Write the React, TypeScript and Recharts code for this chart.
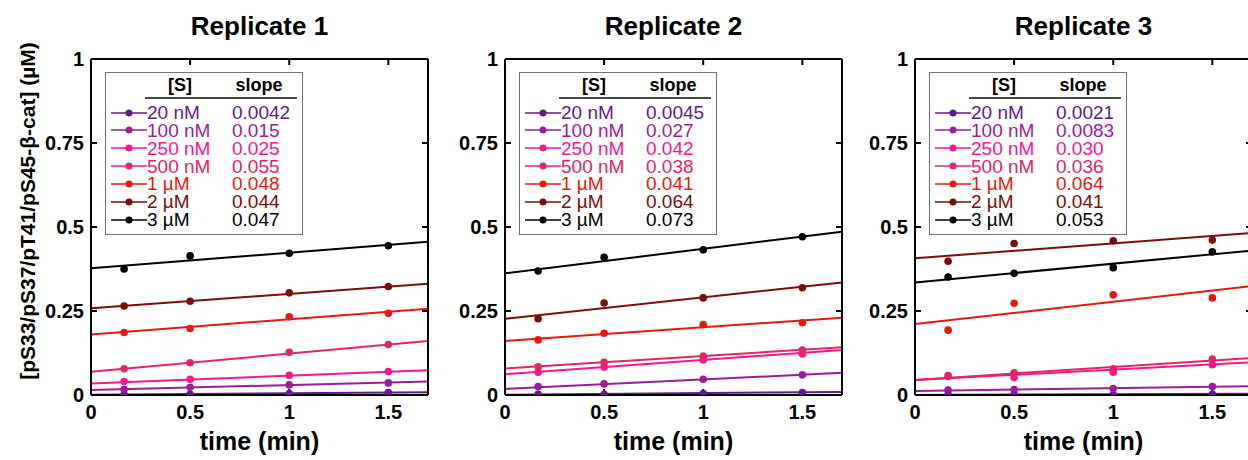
import { ComposedChart, Line, Scatter, XAxis, YAxis, Legend } from 'recharts';

const FONT = "'Liberation Sans', Arial, Helvetica, sans-serif";

const concentrations = ['20 nM', '100 nM', '250 nM', '500 nM', '1 µM', '2 µM', '3 µM'];
const seriesColors = ['#5f1a8e', '#9b1c98', '#f6168e', '#e2265f', '#e8170f', '#7c0b0b', '#000000'];
const times = [0.167, 0.5, 1, 1.5];
const fitTimes = [0, 1.7];
const xTicks = [0, 0.5, 1, 1.5];
const yTicks = [0, 0.25, 0.5, 0.75, 1];
const titles = ['Replicate 1', 'Replicate 2', 'Replicate 3'];

// measured points, one row per concentration
const rep1Points = [
  [0.001, 0.002, 0.004, 0.007],
  [0.017, 0.023, 0.03, 0.036],
  [0.04, 0.047, 0.059, 0.07],
  [0.078, 0.096, 0.127, 0.15],
  [0.186, 0.198, 0.233, 0.243],
  [0.265, 0.279, 0.304, 0.323],
  [0.375, 0.414, 0.422, 0.444],
];
const rep2Points = [
  [0.002, 0.002, 0.004, 0.007],
  [0.025, 0.033, 0.047, 0.06],
  [0.068, 0.083, 0.104, 0.122],
  [0.084, 0.097, 0.116, 0.134],
  [0.164, 0.184, 0.21, 0.215],
  [0.227, 0.274, 0.289, 0.319],
  [0.369, 0.41, 0.432, 0.471],
];
const rep3Points = [
  [0.001, 0.001, 0.001, 0.002],
  [0.015, 0.016, 0.019, 0.025],
  [0.055, 0.052, 0.068, 0.09],
  [0.058, 0.066, 0.078, 0.107],
  [0.193, 0.273, 0.298, 0.289],
  [0.398, 0.451, 0.459, 0.461],
  [0.351, 0.362, 0.379, 0.426],
];

// fitted line values at t = 0 and t = 1.7
const rep1Fits = [
  [0.001, 0.008],
  [0.015, 0.04],
  [0.034, 0.074],
  [0.069, 0.161],
  [0.18, 0.257],
  [0.258, 0.331],
  [0.377, 0.456],
];
const rep2Fits = [
  [0.001, 0.009],
  [0.018, 0.066],
  [0.062, 0.134],
  [0.079, 0.142],
  [0.161, 0.23],
  [0.227, 0.335],
  [0.362, 0.486],
];
const rep3Fits = [
  [0.0, 0.004],
  [0.012, 0.026],
  [0.045, 0.097],
  [0.045, 0.11],
  [0.211, 0.324],
  [0.407, 0.482],
  [0.335, 0.43],
];

const rep1Slopes = ['0.0042', '0.015', '0.025', '0.055', '0.048', '0.044', '0.047'];
const rep2Slopes = ['0.0045', '0.027', '0.042', '0.038', '0.041', '0.064', '0.073'];
const rep3Slopes = ['0.0021', '0.0083', '0.030', '0.036', '0.064', '0.041', '0.053'];

const PLOT_W = 337;
const panels = [
  { left: 0, axisW: 91, points: rep1Points, fits: rep1Fits, slopes: rep1Slopes },
  { left: 445, axisW: 60, points: rep2Points, fits: rep2Fits, slopes: rep2Slopes },
  { left: 855, axisW: 60, points: rep3Points, fits: rep3Fits, slopes: rep3Slopes },
];

const tickStyle = { fill: '#000', fontSize: 20, fontWeight: 'bold', fontFamily: FONT };
const lineStyle = { stroke: '#000', strokeWidth: 2 };

function SlopeLegend({ slopes }: { slopes: string[] }) {
  return (
    <div
      style={{
        position: 'relative',
        boxSizing: 'border-box',
        width: 198,
        height: 163,
        border: '1.5px solid #707070',
        background: '#fff',
        fontFamily: FONT,
      }}
    >
      <div style={{ position: 'absolute', left: 44, width: 60, top: 2, textAlign: 'center', fontSize: 18, fontWeight: 'bold', lineHeight: '20px' }}>
        [S]
      </div>
      <div style={{ position: 'absolute', left: 113, width: 80, top: 2, textAlign: 'center', fontSize: 18, fontWeight: 'bold', lineHeight: '20px' }}>
        slope
      </div>
      <div style={{ position: 'absolute', left: 39, width: 152, top: 24, height: 1.5, background: '#444' }} />
      {concentrations.map((c, i) => {
        const cy = 39.5 + i * 17.85;
        return (
          <div key={c}>
            <svg style={{ position: 'absolute', left: 4, top: cy - 5 }} width={38} height={10}>
              <line x1={1} y1={5} x2={37} y2={5} stroke={seriesColors[i]} strokeWidth={1.6} />
              <circle cx={19} cy={5} r={3.5} fill={seriesColors[i]} />
            </svg>
            <div style={{ position: 'absolute', left: 41, top: cy - 8.5, fontSize: 19, lineHeight: '17px', color: seriesColors[i], whiteSpace: 'nowrap' }}>
              {c}
            </div>
            <div style={{ position: 'absolute', left: 126, top: cy - 8.5, fontSize: 19, lineHeight: '17px', color: seriesColors[i], whiteSpace: 'nowrap' }}>
              {slopes[i]}
            </div>
          </div>
        );
      })}
    </div>
  );
}

function Panel({ idx }: { idx: number }) {
  const p = panels[idx];
  const width = p.axisW + PLOT_W + 8;
  return (
    <div style={{ position: 'absolute', left: p.left, top: 0 }}>
      <div
        style={{
          position: 'absolute',
          left: p.axisW,
          width: PLOT_W,
          top: 13,
          textAlign: 'center',
          fontFamily: FONT,
          fontWeight: 'bold',
          fontSize: 26,
          lineHeight: '26px',
          whiteSpace: 'nowrap',
        }}
      >
        {titles[idx]}
      </div>
      <ComposedChart width={width} height={460} margin={{ top: 58, right: 7, bottom: 0, left: 0 }}>
        <XAxis
          xAxisId="b"
          type="number"
          dataKey="t"
          domain={[0, 1.7]}
          ticks={xTicks}
          interval={0}
          allowDataOverflow
          height={65}
          tickSize={-6}
          tickMargin={16}
          tick={tickStyle}
          tickLine={lineStyle}
          axisLine={lineStyle}
          label={{
            value: 'time (min)',
            position: 'insideBottom',
            offset: 10,
            fill: '#000',
            style: { fontSize: 25, fontWeight: 'bold', fontFamily: FONT },
          }}
        />
        <XAxis
          xAxisId="t"
          orientation="top"
          type="number"
          dataKey="t"
          domain={[0, 1.7]}
          ticks={xTicks}
          interval={0}
          allowDataOverflow
          height={1}
          tickSize={-6}
          tickFormatter={() => ''}
          tickLine={lineStyle}
          axisLine={lineStyle}
        />
        <YAxis
          yAxisId="l"
          type="number"
          domain={[0, 1]}
          ticks={yTicks}
          interval={0}
          allowDataOverflow
          width={p.axisW}
          tickSize={-6}
          tickMargin={13}
          tick={tickStyle}
          tickLine={lineStyle}
          axisLine={lineStyle}
        />
        <YAxis
          yAxisId="r"
          orientation="right"
          type="number"
          domain={[0, 1]}
          ticks={yTicks}
          interval={0}
          allowDataOverflow
          width={1}
          tickSize={-6}
          tickFormatter={() => ''}
          tickLine={lineStyle}
          axisLine={lineStyle}
        />
        <Legend
          layout="vertical"
          align="center"
          verticalAlign="middle"
          wrapperStyle={{ position: 'absolute', left: p.axisW + 14, top: 72, width: 198, height: 163 }}
          content={() => <SlopeLegend slopes={p.slopes} />}
        />
        {concentrations.map((c, i) => (
          <Line
            key={'fit-' + c}
            xAxisId="b"
            yAxisId="l"
            type="linear"
            dataKey="v"
            data={fitTimes.map((t, j) => ({ t, v: p.fits[i][j] }))}
            stroke={seriesColors[i]}
            strokeWidth={2}
            dot={false}
            activeDot={false}
            legendType="none"
            isAnimationActive={false}
          />
        ))}
        {concentrations.map((c, i) => (
          <Scatter
            key={'pts-' + c}
            name={c}
            xAxisId="b"
            yAxisId="l"
            dataKey="v"
            data={times.map((t, j) => ({ t, v: p.points[i][j] }))}
            fill={seriesColors[i]}
            shape={(props: any) => <circle cx={props.cx} cy={props.cy} r={3.8} fill={seriesColors[i]} />}
            isAnimationActive={false}
          />
        ))}
      </ComposedChart>
    </div>
  );
}

export default function App() {
  return (
    <div style={{ position: 'absolute', left: 0, top: 0, width: 1248, height: 460, overflow: 'hidden', background: '#fff' }}>
      <div
        style={{
          position: 'absolute',
          left: 28 - 200,
          top: 211 - 13,
          width: 400,
          height: 26,
          lineHeight: '26px',
          textAlign: 'center',
          transform: 'rotate(-90deg)',
          fontFamily: FONT,
          fontWeight: 'bold',
          fontSize: 21,
          whiteSpace: 'nowrap',
        }}
      >
        [pS33/pS37/pT41/pS45-β-cat] (µM)
      </div>
      <Panel idx={0} />
      <Panel idx={1} />
      <Panel idx={2} />
    </div>
  );
}
